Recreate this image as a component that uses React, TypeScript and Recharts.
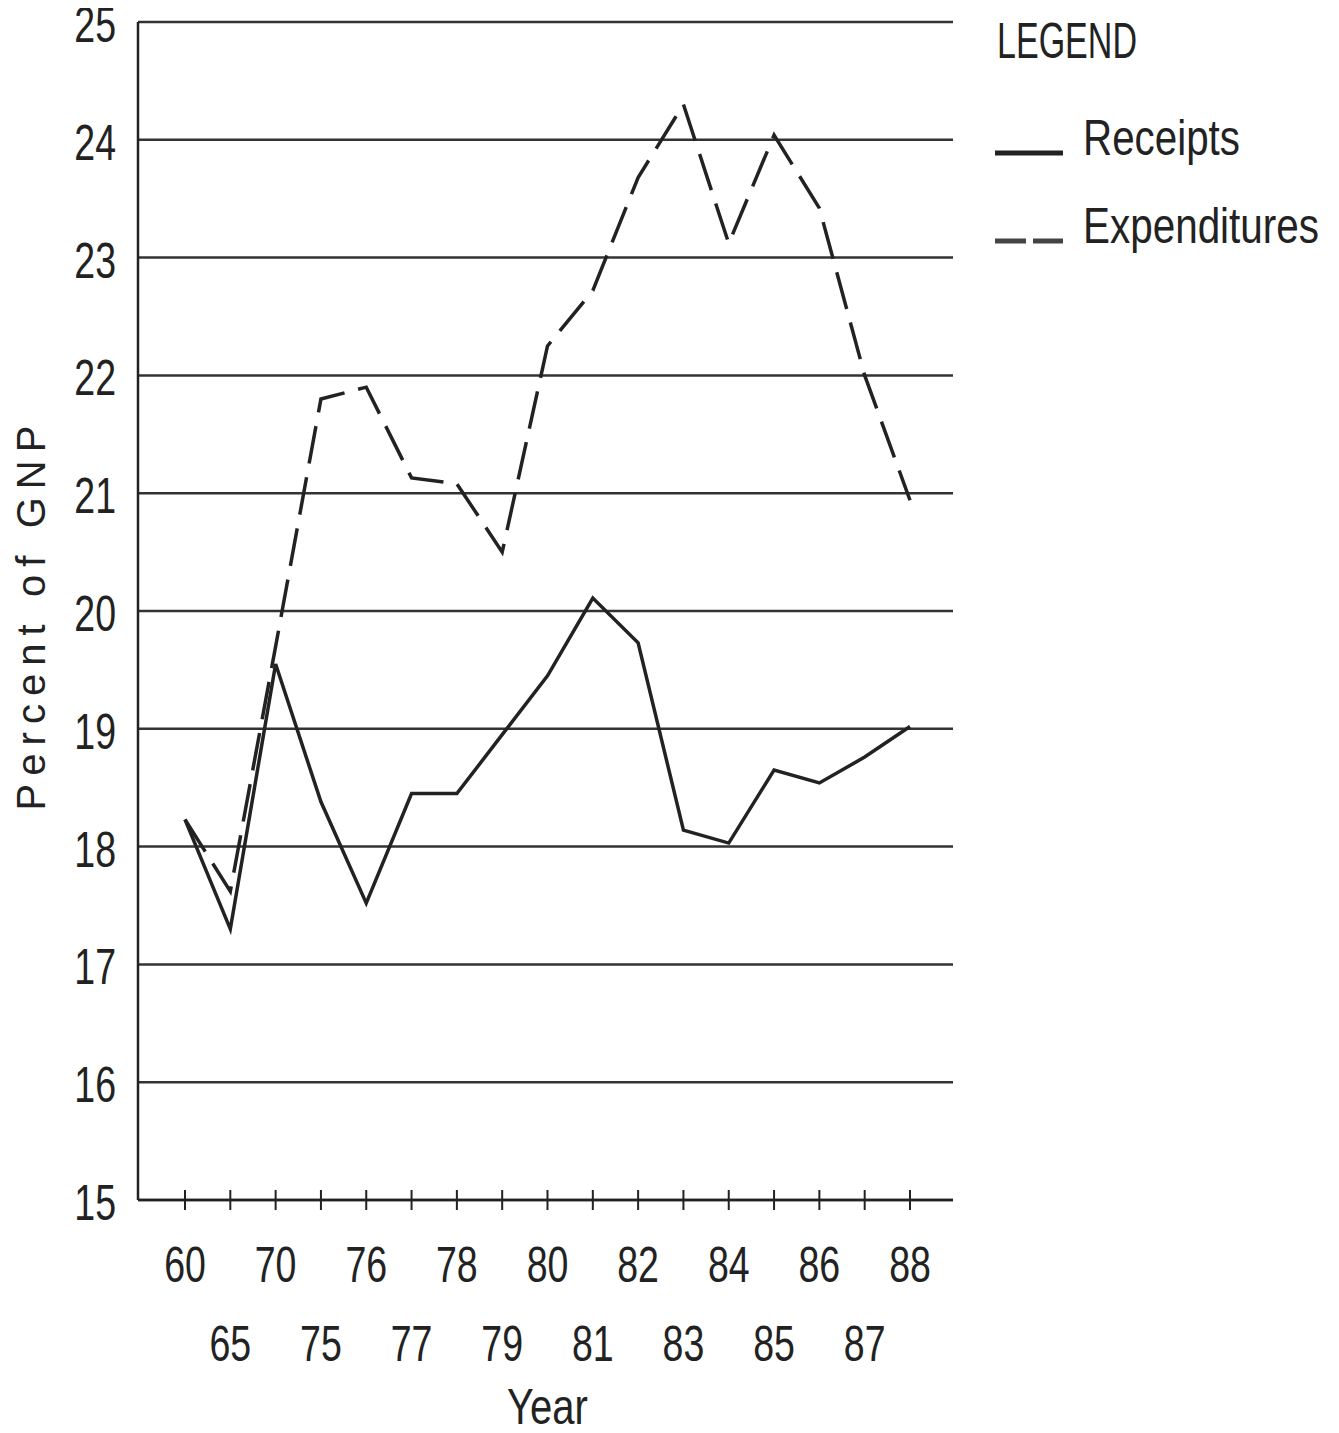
import React from 'react';
import { LineChart, Line, XAxis, YAxis, CartesianGrid, Legend } from 'recharts';

// years shown on the axis (two-row labelling)
const years = ['60', '65', '70', '75', '76', '77', '78', '79', '80', '81', '82', '83', '84', '85', '86', '87', '88'];
const receipts = [18.23, 17.3, 19.55, 18.38, 17.52, 18.45, 18.45, 18.95, 19.45, 20.11, 19.73, 18.14, 18.03, 18.65, 18.54, 18.76, 19.02];
const expenditures = [18.23, 17.62, 19.7, 21.8, 21.9, 21.13, 21.08, 20.5, 22.25, 22.72, 23.68, 24.3, 23.12, 24.04, 23.42, 22.0, 20.94];
const yTicks = [15, 16, 17, 18, 19, 20, 21, 22, 23, 24, 25];

const data = years.map((year, i) => ({
  year,
  receipts: receipts[i],
  expenditures: expenditures[i],
}));

const INK = '#222';
const FONT = '"Liberation Sans", Arial, sans-serif';

// condensed plotter-style text: squeeze horizontally around the anchor point
const Narrow = ({ x, y, anchor = 'middle', size = 50, sx = 0.75, children }: any) => (
  <text
    x={0}
    y={0}
    transform={`translate(${x},${y}) scale(${sx},1)`}
    textAnchor={anchor}
    fontSize={size}
    fill={INK}
    fontFamily={FONT}
  >
    {children}
  </text>
);

const XTick = (props: any) => {
  const { x, y, payload, index } = props;
  const low = index % 2 === 1;
  return (
    <g>
      <line x1={x} x2={x} y1={y - 10} y2={y + 10} stroke={INK} strokeWidth={2} />
      <Narrow x={x} y={y + (low ? 161 : 82)}>{payload.value}</Narrow>
    </g>
  );
};

const YTick = (props: any) => {
  const { x, y, payload } = props;
  return (
    <Narrow x={x} y={y + 20} anchor="end">
      {payload.value}
    </Narrow>
  );
};

const LegendBox = () => (
  <svg width={340} height={260} style={{ display: 'block' }}>
    <text x={2} y={50} fontSize={50} fill={INK} fontFamily={FONT} textLength={140} lengthAdjust="spacingAndGlyphs">LEGEND</text>
    <line x1={0} x2={68} y1={145} y2={145} stroke={INK} strokeWidth={5} />
    <text x={88} y={147} fontSize={50} fill={INK} fontFamily={FONT} textLength={157} lengthAdjust="spacingAndGlyphs">Receipts</text>
    <line x1={0} x2={31} y1={233} y2={233} stroke="#444" strokeWidth={5} />
    <line x1={38} x2={68} y1={233} y2={233} stroke="#444" strokeWidth={5} />
    <text x={88} y={235} fontSize={50} fill={INK} fontFamily={FONT} textLength={236} lengthAdjust="spacingAndGlyphs">Expenditures</text>
  </svg>
);

export default function App() {
  return (
    <div style={{ width: 1331, height: 1425, position: 'relative', background: '#fff' }}>
      <LineChart width={1331} height={1425} data={data} margin={{ top: 14, right: 386, bottom: 0, left: 0 }}>
        <CartesianGrid horizontal vertical={false} stroke="#333" strokeWidth={2.5} />
        <XAxis
          dataKey="year"
          type="category"
          padding={{ left: 47, right: 43 }}
          height={233}
          tickSize={0}
          tickMargin={0}
          tickLine={false}
          axisLine={{ stroke: INK, strokeWidth: 2.5 }}
          tick={<XTick />}
          interval={0}
          label={{
            content: (p: any) => {
              const vb = p.viewBox;
              return (
                <Narrow x={vb.x + vb.width / 2 + 2} y={vb.y + 224} sx={0.8}>
                  Year
                </Narrow>
              );
            },
          }}
        />
        <YAxis
          domain={[15, 25]}
          ticks={yTicks}
          interval={0}
          width={130}
          tickSize={0}
          tickMargin={22}
          tickLine={false}
          axisLine={{ stroke: INK, strokeWidth: 2.5 }}
          tick={<YTick />}
          label={{
            content: (p: any) => {
              const vb = p.viewBox;
              const cx = vb.x + 37;
              const cy = vb.y + vb.height / 2 + 7;
              return (
                <text
                  x={cx}
                  y={cy}
                  transform={`rotate(-90, ${cx}, ${cy})`}
                  textAnchor="middle"
                  fontSize={40}
                  fill={INK}
                  fontFamily={FONT}
                  textLength={385}
                  lengthAdjust="spacing"
                >
                  Percent of GNP
                </text>
              );
            },
          }}
        />
        <YAxis
          yAxisId="frame"
          orientation="right"
          width={0}
          domain={[15, 25]}
          tick={false}
          tickLine={false}
          axisLine={{ stroke: INK, strokeWidth: 2.5 }}
        />
        <Legend
          layout="vertical"
          align="center"
          verticalAlign="middle"
          wrapperStyle={{ left: 987, top: 0, width: 340, height: 260 }}
          content={() => <LegendBox />}
        />
        <Line
          type="linear"
          dataKey="receipts"
          stroke={INK}
          strokeWidth={3.5}
          dot={false}
          isAnimationActive={false}
        />
        <Line
          type="linear"
          dataKey="expenditures"
          stroke={INK}
          strokeWidth={3.5}
          strokeDasharray="38 14"
          dot={false}
          isAnimationActive={false}
        />
      </LineChart>
    </div>
  );
}
